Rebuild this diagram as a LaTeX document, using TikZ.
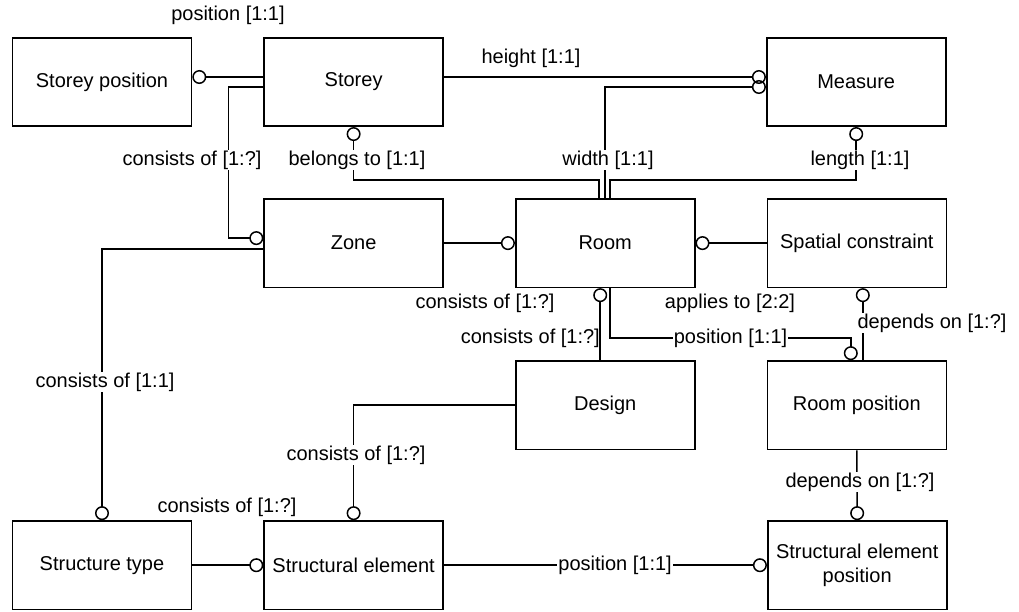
\documentclass[tikz,border=0pt]{standalone}
\usepackage{fontspec}
\setmainfont{Liberation Sans}
\usetikzlibrary{arrows.meta, positioning}

\begin{document}
\begin{tikzpicture}[x=1pt, y=1pt, font=\fontsize{20pt}{23.5pt}\selectfont]
\tikzset{entity/.style={rectangle, draw, line width=1.6pt, minimum width=179pt, minimum height=88.5pt, align=center},
		rel/.style={line width=1.5pt, -{Circle[open, length=14pt, width=14pt]}},
		lbl/.style={fill=white, inner sep=1pt}}
\useasboundingbox (0,0) rectangle (1019,-611);
% entities
\node[entity] (SP) at (102,-82) {Storey position};
\node[entity, right=71pt of SP] (St) {Storey};
\node[entity, right=322pt of St] (Ms) {Measure};
\node[entity, below=71pt of St] (Zn) {Zone};
\node[entity, right=71pt of Zn] (Rm) {Room};
\node[entity, right=71pt of Rm] (SC) {Spatial constraint};
\node[entity, below=72pt of Rm] (Ds) {Design};
\node[entity, below=72pt of SC] (RP) {Room position};
\node[entity, below=232pt of Zn] (SE) {Structural element};
\node[entity, left=71pt of SE] (STy) {Structure type};
\node[entity, right=323pt of SE] (SEP) {Structural element\\position};
% relations
\draw[rel] ([yshift=5pt]St.west) -- ([yshift=5pt]SP.east);
\draw[rel] ([yshift=-5pt]St.west) -- ++(-35,0) |- ([yshift=5pt]Zn.west);
\draw[rel] ([xshift=-6pt]Rm.north) -- ++(0,18) -| (St.south);
\draw[rel] (Rm.north) |- ([yshift=-5pt]Ms.west);
\draw[rel] ([yshift=5pt]St.east) -- ([yshift=5pt]Ms.west);
\draw[rel] ([xshift=5pt]Rm.north) -- ++(0,18) -| (Ms.south);
\draw[rel] (Zn.east) -- (Rm.west);
\draw[rel] (SC.west) -- (Rm.east);
\draw[rel] ([yshift=-6pt]Zn.west) -| (STy.north);
\draw[rel] ([xshift=-5pt]Ds.north) -- ([xshift=-5pt]Rm.south);
\draw[rel] ([xshift=5pt]Rm.south) -- ++(0,-50) -| node[lbl, pos=0.25] (lRmRP) {position [1:1]} ([xshift=-6pt]RP.north);
\draw[rel] ([xshift=6pt]RP.north) -- ([xshift=6pt]SC.south);
\draw[rel] (RP.south) -- (SEP.north);
\draw[rel] (Ds.west) -| (SE.north);
\draw[rel] (STy.east) -- (SE.west);
\draw[rel] (SE.east) -- node[lbl, pos=0.53] (lSESEP) {position [1:1]} (SEP.west);
% labels
\node[lbl] (lSPSt) at (228,-15) {position [1:1]};
\node[lbl] (lStMs) at (531,-58) {height [1:1]};
\node[lbl] (lStZn) at (192,-160) {consists of [1:?]};
\node[lbl] (lRmSt) at (357,-160) {belongs to [1:1]};
\node[lbl] (lRmW) at (608,-160) {width [1:1]};
\node[lbl] (lRmL) at (860,-160) {length [1:1]};
\node[lbl] (lZnRm) at (485,-303) {consists of [1:?]};
\node[lbl] (lSCRm) at (730,-303) {applies to [2:2]};
\node[lbl, fill=none, anchor=east] (lDsRm) at (601,-338) {consists of [1:?]};
\node[lbl] (lRPSC) at (932,-323) {depends on [1:?]};
\node[lbl] (lRPSEP) at (860,-482) {depends on [1:?]};
\node[lbl] (lDsSE) at (356,-455) {consists of [1:?]};
\node[lbl] (lSTySE) at (227,-507) {consists of [1:?]};
\node[lbl] (lZnSTy) at (105,-382) {consists of [1:1]};
\end{tikzpicture}
\end{document}
